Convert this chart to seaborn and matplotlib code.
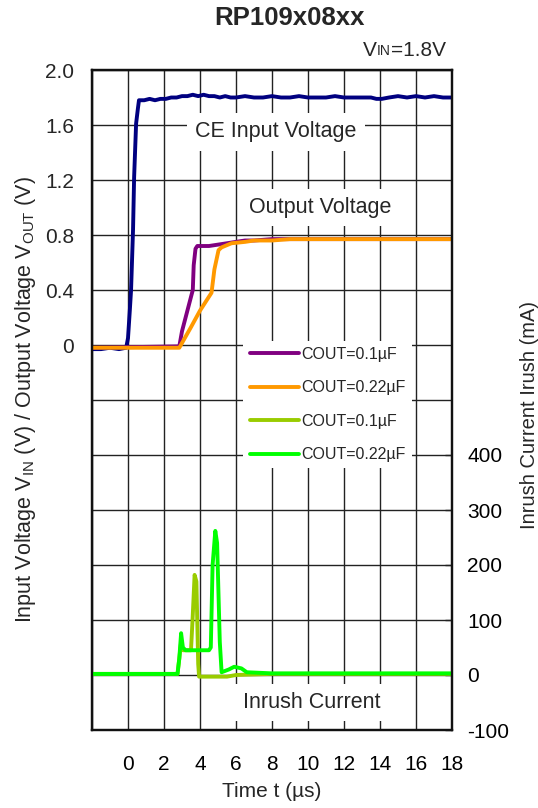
import numpy as np
import pandas as pd
import matplotlib
matplotlib.use('Agg')
import matplotlib.pyplot as plt
import seaborn as sns

# ---- data ----
# CE input voltage (V)
t_vin = [-2.0, -1.5, -1.0, -0.5, -0.1, 0.0, 0.1, 0.17, 0.28, 0.34, 0.45, 0.55, 0.61,
         0.9, 1.2, 1.5, 1.8, 2.1, 2.4, 2.7, 3.0, 3.3, 3.6, 3.9, 4.2, 4.5, 4.8, 5.1,
         5.4, 5.7, 6.0, 6.5, 7.0, 7.5, 8.0, 8.5, 9.0, 9.5, 10.0, 10.5, 11.0, 11.5,
         12.0, 12.5, 13.0, 13.5, 13.8, 14.1, 14.5, 15.0, 15.5, 16.0, 16.5, 17.0,
         17.5, 18.0]
vin = [-0.03, -0.03, -0.02, -0.03, -0.02, 0.05, 0.25, 0.40, 0.84, 1.22, 1.61, 1.72, 1.78,
       1.78, 1.79, 1.78, 1.79, 1.79, 1.80, 1.80, 1.81, 1.81, 1.82, 1.81, 1.82, 1.81, 1.81, 1.80,
       1.81, 1.80, 1.80, 1.81, 1.80, 1.80, 1.81, 1.80, 1.80, 1.81, 1.80, 1.80, 1.80, 1.81,
       1.80, 1.80, 1.80, 1.80, 1.79, 1.79, 1.80, 1.81, 1.80, 1.81, 1.80, 1.81,
       1.80, 1.80]

# output voltage, COUT = 0.1uF (V)
t_out1 = [-2.0, 2.85, 3.0, 3.3, 3.6, 3.65, 3.75, 3.85, 4.5, 5.0, 5.5, 6.0, 6.5, 7.0,
          8.0, 10.0, 12.0, 14.0, 16.0, 18.0]
vout1 = [-0.02, -0.01, 0.10, 0.25, 0.40, 0.58, 0.70, 0.72, 0.72, 0.73, 0.74, 0.75, 0.76, 0.76,
         0.77, 0.77, 0.77, 0.77, 0.77, 0.77]

# output voltage, COUT = 0.22uF (V)
t_out2 = [-2.0, 2.85, 3.5, 4.0, 4.64, 4.8, 5.03, 5.2, 5.75, 6.5, 7.0, 8.0, 9.0,
          10.0, 12.0, 14.0, 16.0, 18.0]
vout2 = [-0.02, -0.02, 0.13, 0.25, 0.38, 0.55, 0.69, 0.71, 0.74, 0.75, 0.76, 0.76, 0.77,
         0.77, 0.77, 0.77, 0.77, 0.77]

# inrush current, COUT = 0.1uF (mA)
t_irush1 = [-2.0, 2.75, 2.85, 2.95, 3.05, 3.3, 3.5, 3.6, 3.7, 3.8, 3.9, 3.95, 4.5,
            5.5, 6.0, 8.0, 12.0, 18.0]
irush1 = [2, 2, 30, 60, 45, 45, 45, 110, 182, 170, 20, -3, -3,
          -3, 0, 2, 2, 2]

# inrush current, COUT = 0.22uF (mA)
t_irush2 = [-2.0, 2.75, 2.85, 2.95, 3.05, 3.2, 4.5, 4.6, 4.7, 4.85, 4.95, 5.1, 5.2,
            5.6, 5.9, 6.3, 6.6, 8.0, 12.0, 18.0]
irush2 = [2, 2, 30, 76, 50, 45, 45, 50, 200, 262, 240, 60, 5,
          10, 15, 12, 5, 3, 3, 3]

legend_labels = ['COUT=0.1µF', 'COUT=0.22µF', 'COUT=0.1µF', 'COUT=0.22µF']
x_ticks = list(range(-2, 19, 2))
v_ticks = np.round(np.arange(-2.8, 2.01, 0.4), 1)
i_ticks = [-100, 0, 100, 200, 300, 400]

# ---- plot ----
sns.set_theme(style='white')
plt.rcParams['font.family'] = ['Liberation Sans', 'DejaVu Sans']
plt.rcParams['mathtext.default'] = 'regular'

fig = plt.figure(figsize=(5.38, 8.08), dpi=100)
ax = fig.add_axes([92 / 538, 78 / 808, 360 / 538, 660 / 808])
ax2 = ax.twinx()

sns.lineplot(x=t_vin, y=vin, ax=ax, color='#000080', lw=2.8, sort=False, estimator=None)
sns.lineplot(x=t_out1, y=vout1, ax=ax, color='#800080', lw=2.8, sort=False, estimator=None,
             label=legend_labels[0])
sns.lineplot(x=t_out2, y=vout2, ax=ax, color='#ff9900', lw=2.8, sort=False, estimator=None,
             label=legend_labels[1])
sns.lineplot(x=t_irush1, y=irush1, ax=ax2, color='#99cc00', lw=2.8, sort=False, estimator=None,
             label=legend_labels[2])
sns.lineplot(x=t_irush2, y=irush2, ax=ax2, color='#00ff00', lw=2.8, sort=False, estimator=None,
             label=legend_labels[3])

ax.set_xlim(-2, 18)
ax.set_ylim(-2.8, 2.0)
ax2.set_ylim(-100, 1100)

ax.set_xticks(x_ticks)
ax.set_xticklabels(['' if t < 0 else str(t) for t in x_ticks], fontsize=15)
ax.set_yticks(v_ticks)
ax.set_yticklabels([('0' if v == 0 else f'{v:.1f}') if v >= 0 else '' for v in v_ticks], fontsize=15)
ax2.set_yticks(i_ticks)
ax2.set_yticklabels([str(i) for i in i_ticks], fontsize=15)

ax.set_axisbelow(True)
ax.grid(True, color='#222222', lw=1.0)
ax.tick_params(axis='x', direction='in', length=5, width=1, pad=18, colors='#222222', labelcolor='black')
ax.tick_params(axis='y', direction='in', length=0, pad=13)
ax2.tick_params(axis='y', direction='in', length=5, width=1, pad=11, colors='#222222', labelcolor='black')
for a in (ax, ax2):
    for s in a.spines.values():
        s.set_color('#111111')
        s.set_linewidth(1.6)

ax.set_xlabel('Time t (µs)', fontsize=15, labelpad=6)
ax.set_ylabel('Input Voltage V$_{IN}$ (V) / Output Voltage V$_{OUT}$ (V)', fontsize=15.5, labelpad=5)
ax2.set_ylabel('Inrush Current Irush (mA)', fontsize=14.5, rotation=90, va='center', ha='center')
ax2.yaxis.set_label_coords(1.215, 0.478)

box = dict(facecolor='white', edgecolor='none', pad=6)
ax.text(8.2, 1.55, 'CE Input Voltage', fontsize=15.5, ha='center', va='center', bbox=box, zorder=4)
ax.text(10.7, 1.0, 'Output Voltage', fontsize=15.5, ha='center', va='center', bbox=box, zorder=4)
ax.text(10.2, -2.60, 'Inrush Current', fontsize=15.5, ha='center', va='center', bbox=box, zorder=4)

# legend with all four traces
h1, l1 = ax.get_legend_handles_labels()
h2, l2 = ax2.get_legend_handles_labels()
ax.get_legend().remove()
leg = ax2.legend(h1 + h2, l1 + l2, loc='upper left', bbox_to_anchor=(0.42, 0.59),
                 fontsize=11.5, handlelength=3.1, handletextpad=0.15, labelspacing=1.15,
                 frameon=True, facecolor='white', edgecolor='none', framealpha=1,
                 borderpad=0.4, borderaxespad=0)
for line in leg.get_lines():
    line.set_linewidth(2.8)

fig.text(290 / 538, 1 - 18 / 808, 'RP109x08xx', fontsize=18.5, fontweight='bold',
         ha='center', va='center')
t3 = fig.text(446 / 538, 1 - 60 / 808, '=1.8V', fontsize=15, ha='right', va='bottom')
t2 = ax.annotate('IN', xy=(0, 0.08), xycoords=t3, fontsize=10, ha='right', va='bottom',
                 annotation_clip=False)
ax.annotate('V', xy=(0, 0), xycoords=t3, fontsize=15, ha='right', va='bottom',
            annotation_clip=False, xytext=(-t2.get_window_extent(fig.canvas.get_renderer()).width, 0),
            textcoords='offset pixels')

fig.savefig('out.png', dpi=100)
